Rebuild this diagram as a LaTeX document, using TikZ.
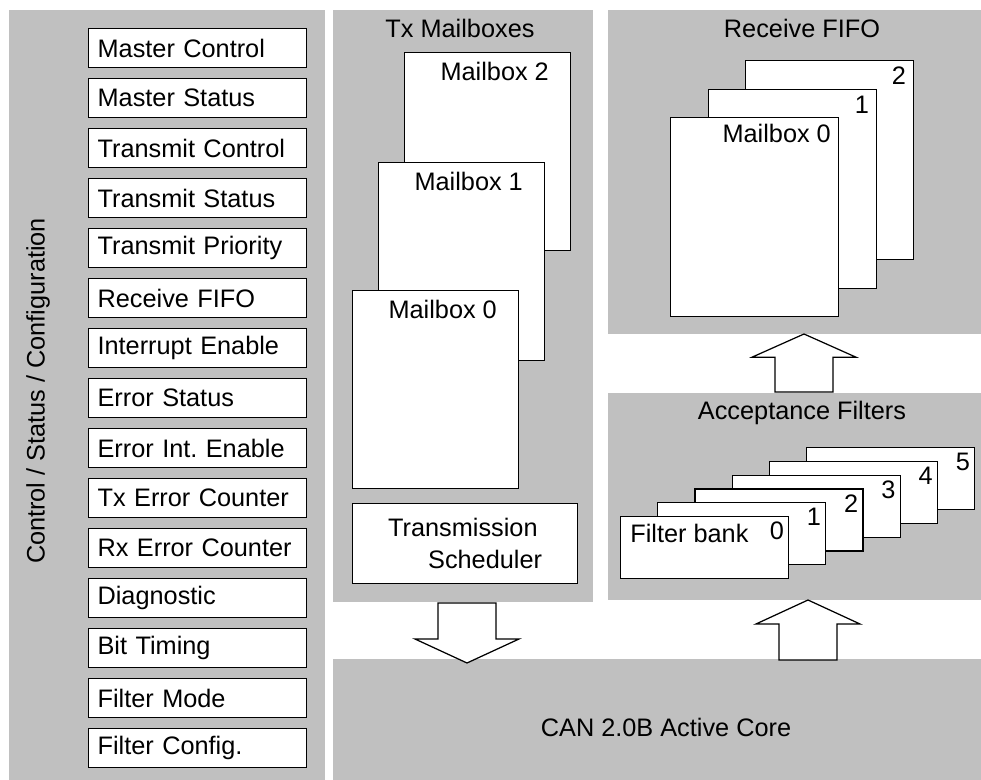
\documentclass[tikz,border=0pt]{standalone}
\usepackage{fontspec}
\setmainfont{Liberation Sans}
\usetikzlibrary{calc}
\definecolor{panelgray}{HTML}{C0C0C0}
\frenchspacing

\begin{document}
\begin{tikzpicture}[x=0.02cm, y=-0.02cm,
    font=\fontsize{14.4}{18.5}\selectfont,
    panel/.style={fill=panelgray, inner sep=0pt, anchor=north west},
    regbox/.style={draw, fill=white, line width=0.7pt, inner sep=0pt, anchor=north west},
    lbl/.style={inner sep=0pt},
    fat/.style={draw, fill=white, line width=0.7pt, to path={
        ($(\tikztostart)+(-29,0)$) -- ($(\tikztotarget)!0.4!(\tikztostart)+(-29,0)$)
        -- ($(\tikztotarget)!0.4!(\tikztostart)+(-52,0)$) -- (\tikztotarget)
        -- ($(\tikztotarget)!0.4!(\tikztostart)+(52,0)$) -- ($(\tikztotarget)!0.4!(\tikztostart)+(29,0)$)
        -- ($(\tikztostart)+(29,0)$) -- cycle}}]
    \useasboundingbox (0,0) rectangle (981,780);
    \node[panel, minimum width=6.32cm, minimum height=15.4cm] (ctl) at (9,10) {};
    \node[panel, minimum width=5.2cm, minimum height=11.84cm] (tx) at (333,10) {};
    \node[panel, minimum width=7.46cm, minimum height=6.48cm] (rx) at (608,10) {};
    \node[panel, minimum width=7.46cm, minimum height=4.14cm] (af) at (608,393) {};
    \node[panel, minimum width=12.96cm, minimum height=2.42cm] (core) at (333,659) {};
    \node[rotate=90] (ctltitle) at (38,391) {Control / Status / Configuration};
    \node (txtitle) at (460,28) {Tx Mailboxes};
    \node (rxtitle) at (802,28) {Receive FIFO};
    \node (aftitle) at (802,413) {Acceptance Filters};
    \node (coretitle) at (666,727) {CAN 2.0B Active Core};
    \foreach \r [count=\i from 0] in {Master Control, Master Status, Transmit Control,
        Transmit Status, Transmit Priority, Receive FIFO, Interrupt Enable, Error Status,
        Error Int. Enable, Tx Error Counter, Rx Error Counter, Diagnostic, Bit Timing,
        Filter Mode, Filter Config.}{
      \node[regbox, minimum height=0.78cm, text width=4.0cm, inner xsep=0.18cm, align=left]
        (reg\i) at (88,28+50*\i) {\r};
    }
    \foreach \x/\y/\n in {404/52/2, 378/162/1, 352/290/0}{
      \node[regbox, minimum width=3.32cm, minimum height=3.96cm] (txmb\n) at (\x,\y) {};
      \node[lbl, anchor=east] (txlbl\n) at ($(txmb\n.north east)+(-22,19)$) {Mailbox \n};
    }
    \node[regbox, minimum width=4.5cm, minimum height=1.6cm, align=left]
      (sched) at (352,503) {Transmission\\\hspace*{0.8cm}Scheduler};
    \foreach \x/\y/\n/\t in {745/60/2/2, 708/89/1/1, 670/117/0/Mailbox 0}{
      \node[regbox, minimum width=3.36cm, minimum height=3.98cm] (rxmb\n) at (\x,\y) {};
      \node[lbl, anchor=east] (rxlbl\n) at ($(rxmb\n.north east)+(-8,16)$) {\t};
    }
    \foreach \n in {5,4,...,0}{
      \node[regbox, minimum width=3.36cm, minimum height=1.24cm] (fb\n) at (620+37.2*\n,516-13.8*\n) {};
      \node[lbl, anchor=east] (fbnum\n) at ($(fb\n.north east)+(-5,15)$) {\n};
    }
    \node[lbl, anchor=west] (fbtext) at ($(fb0.north west)+(10,17)$) {Filter bank};
    \coordinate (txout) at (467,603);
    \coordinate (corein) at (467,663);
    \coordinate (coreout) at (808,660);
    \coordinate (afin) at (808,600);
    \coordinate (afout) at (804,392);
    \coordinate (rxin) at (804,334);
    \draw[fat] (txout) to (corein);
    \draw[fat] (coreout) to (afin);
    \draw[fat] (afout) to (rxin);
  \end{tikzpicture}
\end{document}
